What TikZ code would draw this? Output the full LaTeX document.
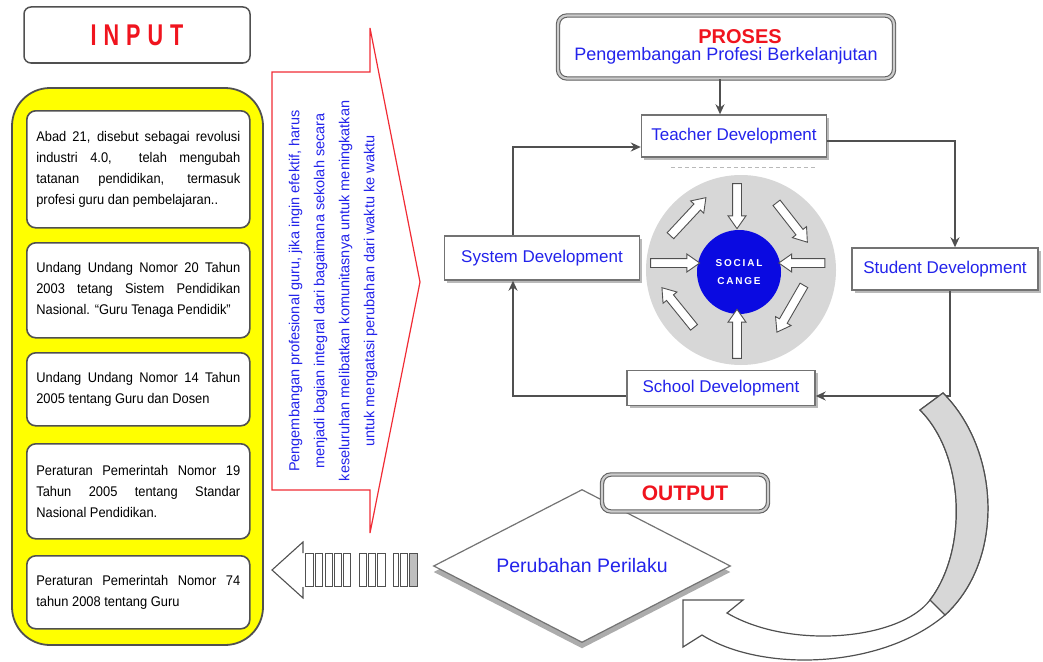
\documentclass[tikz,border=0pt]{standalone}
\usepackage{fontspec}
\setmainfont{Liberation Sans}
\newfontfamily\narrowfont[FakeStretch=0.92]{Liberation Sans}
\newfontfamily\condfont[FakeStretch=0.72]{Liberation Sans}
\usetikzlibrary{shapes.geometric,shapes.arrows,shadows,arrows.meta}

\definecolor{txtblue}{RGB}{35,35,235}
\definecolor{txtred}{RGB}{240,20,30}
\definecolor{linegray}{RGB}{80,80,80}
\definecolor{panelyellow}{RGB}{255,255,0}
\definecolor{circlegray}{RGB}{215,215,215}
\definecolor{socialblue}{RGB}{10,10,225}

\tikzset{
  infobox/.style={draw=linegray, line width=1.6pt, fill=white, rounded corners=9pt,
    text width=204pt, inner xsep=9.5pt, inner ysep=0pt, align=justify, anchor=north west,
    minimum width=223pt, font=\narrowfont\fontsize{14}{21}\selectfont},
  devbox/.style={draw=linegray!80, line width=1.4pt, fill=white, text=txtblue, inner sep=0pt,
    font=\fontsize{17}{20}\selectfont,
    drop shadow={shadow xshift=2.5pt, shadow yshift=-2.5pt, fill=gray!55, opacity=1}},
  framebox/.style={draw=linegray!90, line width=1.1pt, double=gray!40, double distance=2.2pt,
    fill=white, rounded corners=9pt, inner sep=0pt, align=center},
  flow/.style={draw=linegray, line width=1.8pt, -{Stealth[length=10pt,width=9pt]}},
  ringarrow/.style={single arrow, draw=linegray, line width=0.9pt, fill=white,
    inner xsep=0pt, inner ysep=4pt, single arrow head extend=4.5pt,
    single arrow tip angle=70, minimum height=50pt},
  bar/.style={draw=linegray, line width=1pt, fill=white},
  bandline/.style={draw=linegray, line width=1.2pt}
}

\begin{document}
\begin{tikzpicture}[x=1pt, y=-1pt]
    \useasboundingbox (0, 0) rectangle (1043, 661);

    %%input side
    \node[draw=linegray, line width=1.5pt, fill=white, rounded corners=7pt,
      minimum width=226, minimum height=56] at(137, 35)(input)
      {\textcolor{txtred}{\condfont\bfseries\fontsize{30}{30}\selectfont I\kern7pt N\kern7pt P\kern7pt U\kern7pt T}};
    \node[draw=linegray, line width=1.8pt, fill=panelyellow, rounded corners=38pt,
      minimum width=251, minimum height=557] at(137.5, 366.5)(panel){};

    \node[infobox, minimum height=117] at(26, 110)(abad)
      {Abad 21, disebut sebagai revolusi\linebreak industri 4.0, \ telah mengubah\linebreak tatanan pendidikan, termasuk\linebreak profesi guru dan pembelajaran..};
    \node[infobox, minimum height=95] at(26, 242)(uu20)
      {Undang Undang Nomor 20 Tahun\linebreak 2003 tetang Sistem Pendidikan\linebreak Nasional. “Guru Tenaga Pendidik”};
    \node[infobox, minimum height=73] at(26, 352)(uu14)
      {Undang Undang Nomor 14 Tahun\linebreak 2005 tentang Guru dan Dosen};
    \node[infobox, minimum height=95] at(26, 443)(pp19)
      {Peraturan Pemerintah Nomor 19\linebreak Tahun 2005 tentang Standar\linebreak Nasional Pendidikan.};
    \node[infobox, minimum height=73] at(26, 555)(pp74)
      {Peraturan Pemerintah Nomor 74\linebreak tahun 2008 tentang Guru};

    %%red arrow
    \draw[txtred!90, line width=1.2pt, fill=white] (272, 72) -- (370, 72) -- (370, 28)
      -- (420, 282) -- (370, 533) -- (370, 490) -- (272, 490) -- cycle;
    \node[rotate=90, text=txtblue, align=center, font=\fontsize{14.5}{25}\selectfont] at(333, 291)(advice)
      {Pengembangan profesional guru, jika ingin efektif, harus\\
       menjadi bagian integral dari bagaimana sekolah secara\\
       keseluruhan melibatkan komunitasnya untuk meningkatkan\\
       untuk mengatasi perubahan dari waktu ke waktu};

    %%process
    \node[framebox, minimum width=336, minimum height=63,
      drop shadow={shadow xshift=1.5pt, shadow yshift=-1.5pt, fill=gray!40, opacity=1}] at(726, 47)(proses)
      {\hspace*{28pt}\textcolor{txtred}{\bfseries\fontsize{20}{19}\selectfont PROSES}\\[3pt]
       \textcolor{txtblue}{\fontsize{18}{19}\selectfont Pengembangan Profesi Berkelanjutan}};

    \node[devbox, minimum width=185, minimum height=42] at(734, 136)(teacher){Teacher Development};
    \node[devbox, minimum width=195, minimum height=44] at(542, 258)(system){System Development};
    \node[devbox, minimum width=186, minimum height=42] at(945, 269)(student){Student Development};
    \node[devbox, minimum width=188, minimum height=35] at(721, 388)(school){School Development};

    \draw[gray!55, line width=1.5pt, dash pattern=on 4pt off 3pt]
      ([xshift=30, yshift=-10]teacher.south west) -- ([xshift=-12, yshift=-10]teacher.south east);

    \draw[flow] ([xshift=-6]proses.south) -- ([xshift=-6]proses.south |- teacher.north);
    \draw[flow] ([xshift=-29]system.north) |- ([yshift=-11]teacher.west);
    \draw[flow] ([yshift=-5]teacher.east) -| ([xshift=10]student.north);
    \draw[flow] ([xshift=5]student.south) |- ([yshift=-8]school.east);
    \draw[flow] ([yshift=-8]school.west) -| ([xshift=-29]system.south);

    %%social change
    \node[circle, fill=circlegray, minimum size=190, inner sep=0pt] at(741, 270)(ring){};
    \node[circle, fill=socialblue, minimum size=84, inner sep=0pt, text=white, align=center,
      font=\bfseries\fontsize{10}{18}\selectfont] at(739, 272)(social)
      {S\kern1.8pt O\kern1.8pt C\kern1.8pt I\kern1.8pt A\kern1.8pt L\\C\kern1.8pt A\kern1.8pt N\kern1.8pt G\kern1.8pt E};

    \node[ringarrow, minimum height=45, rotate=-90] at(737, 203)(down){};
    \node[ringarrow, minimum height=49, rotate=90] at(737, 337)(up){};
    \node[ringarrow, minimum height=49, rotate=0] at(672, 263)(right){};
    \node[ringarrow, minimum height=46, rotate=180] at(805, 263)(left){};
    \node[ringarrow, minimum height=52, rotate=47] at(686, 219)(northwest){};
    \node[ringarrow, minimum height=50, rotate=-52] at(790, 220)(northeast){};
    \node[ringarrow, minimum height=54, rotate=-120] at(792, 306)(southeast){};
    \node[ringarrow, minimum height=51, rotate=129] at(680, 310)(southwest){};

    %%output
    \node[diamond, aspect=1.94, draw=linegray!80, line width=1.2pt, fill=white, minimum width=297, minimum height=153,
      inner sep=0pt, text=txtblue, font=\fontsize{19.5}{20}\selectfont,
      drop shadow={shadow xshift=0pt, shadow yshift=-6pt, fill=gray!65, opacity=1}] at(582, 566)(behaviour)
      {Perubahan Perilaku};
    \node[framebox, minimum width=166, minimum height=37,
      drop shadow={shadow xshift=1.5pt, shadow yshift=-1.5pt, fill=gray!40, opacity=1}] at(685, 493)(output)
      {\textcolor{txtred}{\bfseries\fontsize{21}{21}\selectfont OUTPUT}};

    %%curved arrow
    \draw[bandline, fill=white] (683, 600) -- (743, 600) -- (727, 613)
      .. controls (790, 650) and (900, 640) .. (930, 600)
      .. controls (968, 550) and (965, 455) .. (920, 410) -- (943, 393)
      .. controls (1000, 450) and (1005, 560) .. (945, 615)
      .. controls (880, 670) and (760, 672) .. (702, 635) -- (683, 647) -- cycle;
    \draw[bandline, fill=circlegray] (943, 393) .. controls (1000, 450) and (1005, 560) .. (945, 615)
      -- (930, 600) .. controls (968, 550) and (965, 455) .. (920, 410) -- cycle;

    %%striped arrow
    \draw[linegray, line width=1.1pt] (303, 553) -- (303, 542) -- (272, 570) -- (303, 598) -- (303, 587);
    \draw[bar] (305, 553) rectangle (313, 586);
    \draw[bar] (315, 553) rectangle (322, 586);
    \draw[bar] (325, 553) rectangle (332, 586);
    \draw[bar] (334, 553) rectangle (341, 586);
    \draw[bar] (343, 553) rectangle (350, 586);
    \draw[bar] (359, 553) rectangle (366, 586);
    \draw[bar] (368, 553) rectangle (375, 586);
    \draw[bar] (377, 553) rectangle (385, 586);
    \draw[bar] (393, 553) rectangle (398, 586);
    \draw[bar] (400, 553) rectangle (407, 586);
    \draw[bar, fill=gray!50] (409, 553) rectangle (417, 586);
\end{tikzpicture}
\end{document}
